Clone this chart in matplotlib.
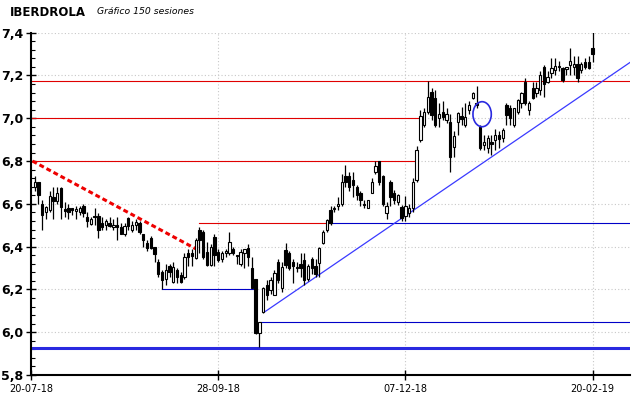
import matplotlib
matplotlib.use('agg')
import matplotlib.pyplot as plt
import numpy as np
from matplotlib.patches import Ellipse
from matplotlib.ticker import MultipleLocator, FuncFormatter

matplotlib.rcParams['font.family'] = ['DejaVu Sans']

# sesiones 1..150 (OHLC)
opens = [6.68, 6.70, 6.60, 6.56, 6.57, 6.63, 6.615, 6.675, 6.575, 6.58,
         6.58, 6.565, 6.56, 6.59, 6.54, 6.505, 6.545, 6.545, 6.51, 6.50,
         6.51, 6.49, 6.50, 6.49, 6.457, 6.535, 6.48, 6.50, 6.51, 6.46,
         6.415, 6.44, 6.40, 6.33, 6.28, 6.25, 6.31, 6.236, 6.29, 6.267,
         6.26, 6.37, 6.37, 6.345, 6.478, 6.47, 6.376, 6.314, 6.447, 6.376,
         6.34, 6.37, 6.37, 6.39, 6.355, 6.32, 6.37, 6.392, 6.30, 6.247,
         5.995, 6.095, 6.22, 6.197, 6.173, 6.33, 6.205, 6.384, 6.369, 6.33,
         6.30, 6.32, 6.337, 6.25, 6.34, 6.31, 6.322, 6.415, 6.478, 6.572,
         6.575, 6.59, 6.60, 6.73, 6.73, 6.71, 6.68, 6.65, 6.60, 6.58,
         6.653, 6.75, 6.80, 6.73, 6.556, 6.70, 6.65, 6.61, 6.587, 6.544,
         6.556, 6.58, 6.71, 6.90, 6.97, 7.03, 7.125, 7.094, 7.00, 7.027,
         6.99, 6.984, 6.867, 6.984, 7.01, 6.97, 7.04, 7.094, 7.07, 6.96,
         6.875, 6.86, 6.89, 6.90, 6.92, 6.906, 7.06, 7.047, 6.97, 7.03,
         7.07, 7.17, 7.04, 7.14, 7.117, 7.13, 7.24, 7.17, 7.21, 7.227,
         7.24, 7.234, 7.23, 7.25, 7.24, 7.253, 7.227, 7.265, 7.265, 7.33]
highs = [6.73, 6.70, 6.62, 6.59, 6.66, 6.68, 6.68, 6.68, 6.61, 6.60,
         6.58, 6.59, 6.59, 6.60, 6.56, 6.54, 6.58, 6.555, 6.54, 6.53,
         6.54, 6.53, 6.54, 6.51, 6.51, 6.54, 6.52, 6.53, 6.52, 6.46,
         6.43, 6.45, 6.40, 6.34, 6.29, 6.32, 6.32, 6.33, 6.30, 6.28,
         6.37, 6.39, 6.39, 6.44, 6.49, 6.48, 6.42, 6.41, 6.46, 6.39,
         6.38, 6.39, 6.47, 6.40, 6.36, 6.39, 6.39, 6.41, 6.35, 6.25,
         6.05, 6.21, 6.245, 6.26, 6.29, 6.34, 6.33, 6.415, 6.38, 6.34,
         6.33, 6.37, 6.37, 6.32, 6.35, 6.34, 6.40, 6.48, 6.53, 6.59,
         6.59, 6.63, 6.74, 6.78, 6.75, 6.75, 6.69, 6.66, 6.62, 6.62,
         6.72, 6.80, 6.80, 6.735, 6.61, 6.71, 6.665, 6.645, 6.595, 6.635,
         6.60, 6.72, 6.87, 7.04, 7.05, 7.175, 7.14, 7.13, 7.07, 7.08,
         7.05, 7.02, 6.94, 7.03, 7.055, 7.07, 7.08, 7.125, 7.15, 6.97,
         6.92, 6.92, 6.92, 6.95, 6.94, 6.955, 7.07, 7.06, 7.05, 7.09,
         7.125, 7.19, 7.08, 7.17, 7.17, 7.22, 7.25, 7.22, 7.28, 7.28,
         7.27, 7.24, 7.24, 7.33, 7.29, 7.29, 7.265, 7.28, 7.29, 7.41]
lows = [6.66, 6.60, 6.48, 6.53, 6.56, 6.53, 6.60, 6.53, 6.54, 6.53,
        6.55, 6.53, 6.55, 6.54, 6.49, 6.50, 6.50, 6.44, 6.48, 6.48,
        6.49, 6.48, 6.43, 6.46, 6.45, 6.48, 6.47, 6.48, 6.46, 6.40,
        6.38, 6.39, 6.33, 6.26, 6.20, 6.22, 6.26, 6.23, 6.23, 6.23,
        6.25, 6.31, 6.31, 6.34, 6.37, 6.34, 6.31, 6.31, 6.31, 6.33,
        6.33, 6.35, 6.36, 6.36, 6.32, 6.31, 6.30, 6.31, 6.205, 5.99,
        5.93, 6.09, 6.15, 6.18, 6.173, 6.23, 6.19, 6.30, 6.29, 6.23,
        6.28, 6.26, 6.22, 6.24, 6.27, 6.26, 6.26, 6.41, 6.47, 6.50,
        6.56, 6.57, 6.59, 6.68, 6.66, 6.63, 6.62, 6.59, 6.58, 6.58,
        6.65, 6.74, 6.69, 6.59, 6.53, 6.59, 6.60, 6.595, 6.52, 6.52,
        6.54, 6.56, 6.70, 6.89, 6.96, 7.02, 6.99, 6.96, 6.96, 6.99,
        6.98, 6.75, 6.82, 6.92, 6.97, 6.96, 7.02, 7.09, 7.05, 6.85,
        6.85, 6.84, 6.83, 6.85, 6.86, 6.89, 6.97, 6.97, 6.96, 7.02,
        7.05, 7.06, 7.016, 7.09, 7.10, 7.11, 7.10, 7.165, 7.19, 7.20,
        7.22, 7.17, 7.20, 7.20, 7.20, 7.17, 7.21, 7.23, 7.23, 7.265]
closes = [6.70, 6.64, 6.55, 6.585, 6.635, 6.615, 6.65, 6.585, 6.565, 6.56,
          6.57, 6.575, 6.58, 6.555, 6.52, 6.527, 6.54, 6.48, 6.49, 6.52,
          6.495, 6.50, 6.49, 6.46, 6.497, 6.496, 6.50, 6.515, 6.47, 6.43,
          6.395, 6.395, 6.365, 6.27, 6.245, 6.29, 6.28, 6.306, 6.26, 6.236,
          6.353, 6.35, 6.355, 6.43, 6.43, 6.353, 6.314, 6.40, 6.36, 6.337,
          6.37, 6.38, 6.42, 6.37, 6.355, 6.375, 6.39, 6.353, 6.205, 5.994,
          6.047, 6.205, 6.173, 6.244, 6.275, 6.244, 6.306, 6.314, 6.30, 6.31,
          6.30, 6.30, 6.244, 6.31, 6.30, 6.27, 6.392, 6.47, 6.525, 6.51,
          6.58, 6.60, 6.70, 6.70, 6.68, 6.69, 6.64, 6.62, 6.595, 6.62,
          6.70, 6.775, 6.70, 6.60, 6.59, 6.634, 6.62, 6.64, 6.533, 6.59,
          6.58, 6.70, 6.853, 7.01, 7.03, 7.10, 7.016, 6.97, 7.02, 7.008,
          7.02, 6.82, 6.917, 7.023, 6.995, 7.008, 7.06, 7.117, 7.06, 6.86,
          6.89, 6.906, 6.88, 6.92, 6.905, 6.945, 7.016, 7.00, 7.047, 7.086,
          7.117, 7.07, 7.07, 7.094, 7.14, 7.20, 7.16, 7.195, 7.235, 7.245,
          7.24, 7.18, 7.24, 7.27, 7.255, 7.187, 7.253, 7.24, 7.234, 7.30]

# niveles dibujados: (precio, desde, hasta, color)
levels = [(7.173, 0, 160, '#e00000'),
          (7.00, 0, 103.8, '#e00000'),
          (6.80, 0, 102.8, '#e00000'),
          (6.511, 44.8, 79.8, '#e00000'),
          (6.511, 79.8, 160, '#0000c8'),
          (6.20, 35, 59.3, '#0000c8'),
          (6.047, 61, 160, '#0000c8')]
support = 5.928
trend_x = [62.5, 160]
trend_y = [6.096, 7.261]
dash_x = [0.4, 44]
dash_y = [6.80, 6.39]

fig = plt.figure(figsize=(6.4, 3.98), dpi=100)
ax = fig.add_axes([31/640, 1 - 375/398, 599/640, 342.3/398])

x = np.arange(1, len(closes) + 1)
o = np.array(opens); c = np.array(closes)
h = np.array(highs); l = np.array(lows)

ax.vlines(x, l, h, color='black', linewidth=0.9, zorder=3)
up = c >= o
bottom = np.minimum(o, c)
height = np.maximum(np.abs(c - o), 0.004)
ax.bar(x, height, 0.62, bottom=bottom, color=np.where(up, 'white', 'black'),
       edgecolor='black', linewidth=0.8, zorder=4)

for y, x0, x1, col in levels:
    ax.plot([x0, x1], [y, y], color=col, linewidth=0.8, zorder=2)
ax.axhline(support, color='#2a2ae0', linewidth=2.2, zorder=2)
ax.plot(trend_x, trend_y, color='#3a3aff', linewidth=0.9, zorder=2)
ax.plot(dash_x, dash_y, color='#ee0000', linewidth=2.2, linestyle=(0, (1.6, 1)), zorder=2)
ax.add_patch(Ellipse((120.5, 7.019), 4.9, 0.117, fill=False, edgecolor='#2a2ae0', linewidth=1.2, zorder=5))

ax.set_xlim(0, 160)
ax.set_ylim(5.8, 7.4)
ax.set_xticks([0, 50, 100, 150])
ax.set_xticklabels(['20-07-18', '28-09-18', '07-12-18', '20-02-19'], fontsize=7)
ax.yaxis.set_major_locator(MultipleLocator(0.2))
ax.yaxis.set_minor_locator(MultipleLocator(0.04))
ax.yaxis.set_major_formatter(FuncFormatter(lambda v, p: f'{v:.1f}'.replace('.', ',')))
for t in ax.get_yticklabels():
    t.set_fontweight('bold')
    t.set_fontsize(9)
ax.tick_params(axis='y', which='major', direction='inout', length=7, width=1, pad=2)
ax.tick_params(axis='y', which='minor', direction='in', length=3, width=0.8)
ax.tick_params(axis='x', which='major', direction='inout', length=7, width=1, pad=3)

ax.grid(True, which='major', color='#c8c8c8', linestyle=(0, (1, 2)), linewidth=0.8)
ax.set_axisbelow(True)
for s in ['top', 'right']:
    ax.spines[s].set_visible(False)
ax.spines['left'].set_linewidth(1.5)
ax.spines['bottom'].set_linewidth(1.5)

fig.text(10/640, 1 - 12/398, 'IBERDROLA', fontsize=8.5, fontweight='bold', va='center')
fig.text(97/640, 1 - 12/398, 'Gráfico 150 sesiones', fontsize=6.7, style='italic', va='center')

fig.savefig('out.png', dpi=100)
